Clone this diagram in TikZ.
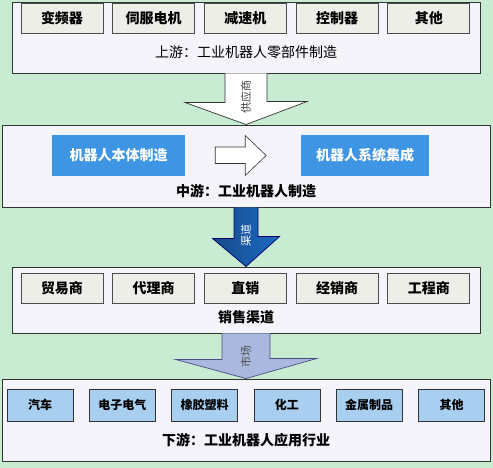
\documentclass[tikz,border=0pt]{standalone}
\usepackage{fontspec}
\setmainfont{Noto Sans CJK SC}
\usetikzlibrary{calc}
\definecolor{bggreen}{RGB}{200,236,210}
\definecolor{panelfill}{RGB}{244,244,250}
\definecolor{partfill}{RGB}{238,238,232}
\definecolor{bodyblue}{RGB}{61,149,227}
\definecolor{darkblue}{RGB}{30,106,196}
\definecolor{paleblue}{RGB}{170,184,224}
\definecolor{appblue}{RGB}{168,207,240}

\begin{document}
\begin{tikzpicture}[x=1pt,y=-1pt,
    panel/.style={draw=black!80,fill=panelfill,line width=0.9pt,inner sep=0pt},
    partbox/.style={draw=black!70,fill=partfill,line width=0.8pt,minimum width=82pt,minimum height=30pt,inner sep=0pt,font=\bfseries\fontsize{14}{16}\selectfont},
    bodybox/.style={fill=bodyblue,text=white,minimum height=41pt,inner sep=0pt,font=\bfseries\fontsize{14}{16}\selectfont},
    appbox/.style={draw=black!80,fill=appblue,line width=0.8pt,minimum width=66pt,minimum height=32pt,inner sep=0pt,font=\bfseries\fontsize{12}{14}\selectfont},
    caption/.style={font=\fontsize{14}{16}\selectfont,inner sep=0pt},
    flowlabel/.style={rotate=90,font=\fontsize{11}{12}\selectfont,inner sep=0pt}]
        \fill[bggreen] (0,0) rectangle (493,468);
        \useasboundingbox (0,0) rectangle (493,468);

        % upstream: parts
        \node[panel,minimum width=468pt,minimum height=71pt] (up) at (246,37.5) {};
        \foreach \name [count=\i from 0] in {变频器,伺服电机,减速机,控制器,其他}
            \node[partbox] (part\i) at (62+91.7*\i,18) {\name};
        \node[caption] (upcap) at (246,52) {上游：工业机器人零部件制造};

        % midstream: robot manufacturing
        \node[panel,minimum width=488pt,minimum height=82pt] (mid) at (246,166) {};
        \node[bodybox,minimum width=133pt] (body) at (118.5,155.5) {机器人本体制造};
        \node[bodybox,minimum width=128pt] (integr) at (365,155.5) {机器人系统集成};
        \coordinate (flow) at ($(body.east)+(30,0)$);
        \draw[black!80,fill=white,line width=0.6pt] ($(flow)+(0,-8.5)$) -- ++(30,0) -- ++(0,-11.5)
            -- ++(21,20) -- ++(-21,20) -- ++(0,-12) -- ++(-30,0) -- cycle;
        \node[caption,font=\bfseries\fontsize{14}{16}\selectfont] (midcap) at (246,191) {中游：工业机器人制造};

        % sales channels
        \node[panel,minimum width=468pt,minimum height=66pt] (sales) at (246,300) {};
        \foreach \name [count=\i from 0] in {贸易商,代理商,直销,经销商,工程商}
            \node[partbox] (chan\i) at (62+91.7*\i,288) {\name};
        \node[caption,font=\bfseries\fontsize{14}{16}\selectfont] (salescap) at (246,317) {销售渠道};

        % downstream: applications
        \node[panel,minimum width=488pt,minimum height=82pt] (down) at (246,420) {};
        \foreach \name [count=\i from 0] in {汽车,电子电气,橡胶塑料,化工,金属制品,其他}
            \node[appbox] (app\i) at (40+82.3*\i,405) {\name};
        \node[caption,font=\bfseries\fontsize{14}{16}\selectfont] (downcap) at (246,440) {下游：工业机器人应用行业};

        % block arrows between the stages
        \draw[black!80,fill=white,line width=0.7pt] ($(up.south)+(-21,0)$) -- ++(0,29) -- ++(-40,0)
            -- (mid.north) -- ++(61,-23) -- ++(-40,0) -- ($(up.south)+(21,0)$);
        \node[flowlabel,text=black!75] (supply) at (246,97) {供应商};

        \draw[blue!40!black,left color=darkblue!70!black,right color=darkblue,line width=0.7pt]
            ($(mid.south)+(-12,0)$) -- ++(0,31) -- ++(-21.5,0)
            -- (sales.north) -- ++(33.5,-30) -- ++(-21.5,0) -- ($(mid.south)+(12,0)$);
        \node[flowlabel,text=white] (channel) at (246,236) {渠道};

        \draw[blue!30!black!70,fill=paleblue,line width=0.7pt] ($(sales.south)+(-24,0)$) -- ++(0,26) -- ++(-46.5,0)
            -- (down.north) -- ++(70.5,-20) -- ++(-46.5,0) -- ($(sales.south)+(24,0)$);
        \node[flowlabel,text=black!70] (market) at (246,356) {市场};
    \end{tikzpicture}
\end{document}
